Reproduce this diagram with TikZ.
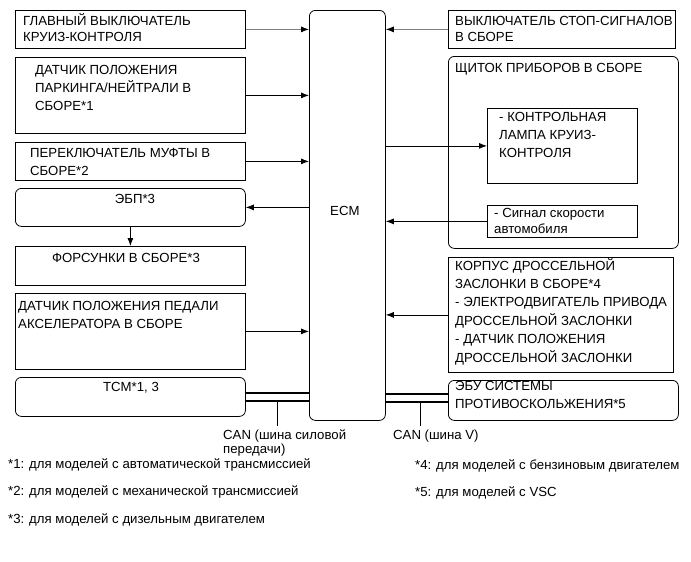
\documentclass[tikz,border=0pt]{standalone}
\usepackage{fontspec}
\setmainfont{Liberation Sans}
\usetikzlibrary{arrows.meta}
\newcommand\ml[2][18.4pt]{\vtop{\baselineskip=#1\relax\lineskiplimit=-20pt\let\\\cr\halign{##\hfil\cr#2\crcr}}}
\tikzset{
  blk/.style={draw, line width=0.8pt, inner sep=0pt, anchor=north west},
  rblk/.style={blk, rounded corners=6pt},
  txt/.style={anchor=base west, inner sep=0pt},
  ctxt/.style={anchor=base, inner sep=0pt},
  arr/.style={line width=0.8pt, -{Latex[length=8pt,width=6pt,color=black]}},
  can/.style={line width=2pt},
  tick/.style={line width=0.8pt},
  every node/.style={font=\fontsize{13.2pt}{18.4pt}\selectfont}
}
\begin{document}
\begin{tikzpicture}[x=1pt,y=-1pt]
\useasboundingbox (0,0) rectangle (691,562);
% left column
\node[blk, minimum width=230pt, minimum height=38pt] (b1) at (15,10) {};
\node[txt] (t1) at (23,25) {\ml[17pt]{ГЛАВНЫЙ ВЫКЛЮЧАТЕЛЬ\\КРУИЗ-КОНТРОЛЯ}};
\node[blk, minimum width=230pt, minimum height=76pt] (b2) at (15,57) {};
\node[txt] (t2) at (35,74) {\ml{ДАТЧИК ПОЛОЖЕНИЯ\\ПАРКИНГА/НЕЙТРАЛИ В\\СБОРЕ*1}};
\node[blk, minimum width=230pt, minimum height=38pt] (b3) at (15,142) {};
\node[txt] (t3) at (30,157) {\ml{ПЕРЕКЛЮЧАТЕЛЬ МУФТЫ В\\СБОРЕ*2}};
\node[rblk, minimum width=230pt, minimum height=38pt] (b4) at (15,188) {};
\node[ctxt] (t4) at (135,203) {ЭБП*3};
\node[blk, minimum width=230pt, minimum height=39pt] (b5) at (15,246) {};
\node[ctxt] (t5) at (126,262) {ФОРСУНКИ В СБОРЕ*3};
\node[blk, minimum width=230pt, minimum height=76pt] (b6) at (15,293) {};
\node[txt] (t6) at (18,310) {\ml{ДАТЧИК ПОЛОЖЕНИЯ ПЕДАЛИ\\АКСЕЛЕРАТОРА В СБОРЕ}};
\node[rblk, minimum width=230pt, minimum height=39pt] (b7) at (15,377) {};
\node[ctxt] (t7) at (131,391) {TCM*1, 3};
% ECM
\node[rblk, minimum width=76pt, minimum height=410pt] (ecm) at (309,10) {};
\node[txt] (tecm) at (330,215) {ECM};
% right column
\node[blk, minimum width=227pt, minimum height=38pt] (r1) at (448,10) {};
\node[txt] (tr1) at (455,25) {\ml[17pt]{ВЫКЛЮЧАТЕЛЬ СТОП-СИГНАЛОВ\\В СБОРЕ}};
\node[rblk, minimum width=230pt, minimum height=192pt] (r2) at (448,56) {};
\node[txt] (tr2) at (455,72) {ЩИТОК ПРИБОРОВ В СБОРЕ};
\node[blk, minimum width=150pt, minimum height=75pt] (lamp) at (487,108) {};
\node[txt] (tlamp) at (499,121) {\ml{- КОНТРОЛЬНАЯ\\ЛАМПА КРУИЗ-\\КОНТРОЛЯ}};
\node[blk, minimum width=150pt, minimum height=32pt] (spd) at (487,205) {};
\node[txt] (tspd) at (494,217) {\ml[16pt]{- Сигнал скорости\\автомобиля}};
\node[blk, minimum width=225pt, minimum height=115pt] (r3) at (448,257) {};
\node[txt] (tr3) at (455,270) {\ml{КОРПУС ДРОССЕЛЬНОЙ\\ЗАСЛОНКИ В СБОРЕ*4\\- ЭЛЕКТРОДВИГАТЕЛЬ ПРИВОДА\\ДРОССЕЛЬНОЙ ЗАСЛОНКИ\\- ДАТЧИК ПОЛОЖЕНИЯ\\ДРОССЕЛЬНОЙ ЗАСЛОНКИ}};
\node[rblk, minimum width=230pt, minimum height=40pt] (r4) at (448,380) {};
\node[txt] (tr4) at (455,390) {\ml{ЭБУ СИСТЕМЫ\\ПРОТИВОСКОЛЬЖЕНИЯ*5}};
% arrows
\draw[arr, draw=gray] (b1) -- (b1 -| ecm.west);
\draw[arr] (b2) -- (b2 -| ecm.west);
\draw[arr] (b3) -- (b3 -| ecm.west);
\draw[arr] (ecm.west |- b4) -- (b4);
\draw[arr] (b4) -- (b5);
\draw[arr] (b6) -- (b6 -| ecm.west);
\draw[arr, draw=gray] (r1) -- (r1 -| ecm.east);
\draw[arr] (ecm.east |- lamp) -- (lamp);
\draw[arr] (spd) -- (spd -| ecm.east);
\draw[arr] (r3) -- (r3 -| ecm.east);
% CAN buses
\draw[can] ([yshift=3.5pt]b7.east) -- ([yshift=3.5pt]b7.east -| ecm.west);
\draw[can] ([yshift=-4.5pt]b7.east) -- ([yshift=-4.5pt]b7.east -| ecm.west);
\draw[can] ([yshift=6pt]r4.west) -- ([yshift=6pt]r4.west -| ecm.east);
\draw[can] ([yshift=-2pt]r4.west) -- ([yshift=-2pt]r4.west -| ecm.east);
\coordinate (k1) at (277,401);
\coordinate (k1e) at (277,426);
\coordinate (k2) at (420,402);
\coordinate (k2e) at (420,426);
\draw[tick] (k1) -- (k1e);
\draw[tick] (k2) -- (k2e);
\node[txt] (can1) at (223,439) {\ml[14.5pt]{CAN (шина силовой\\передачи)}};
\node[txt] (can2) at (393,439) {CAN (шина V)};
% footnotes
\node[txt] (f1) at (8,468) {*1: для моделей с автоматической трансмиссией};
\node[txt] (f2) at (8,495) {*2: для моделей с механической трансмиссией};
\node[txt] (f3) at (8,523) {*3: для моделей с дизельным двигателем};
\node[txt] (f4) at (415,469) {*4: для моделей с бензиновым двигателем};
\node[txt] (f5) at (415,496) {*5: для моделей с VSC};
\end{tikzpicture}
\end{document}
